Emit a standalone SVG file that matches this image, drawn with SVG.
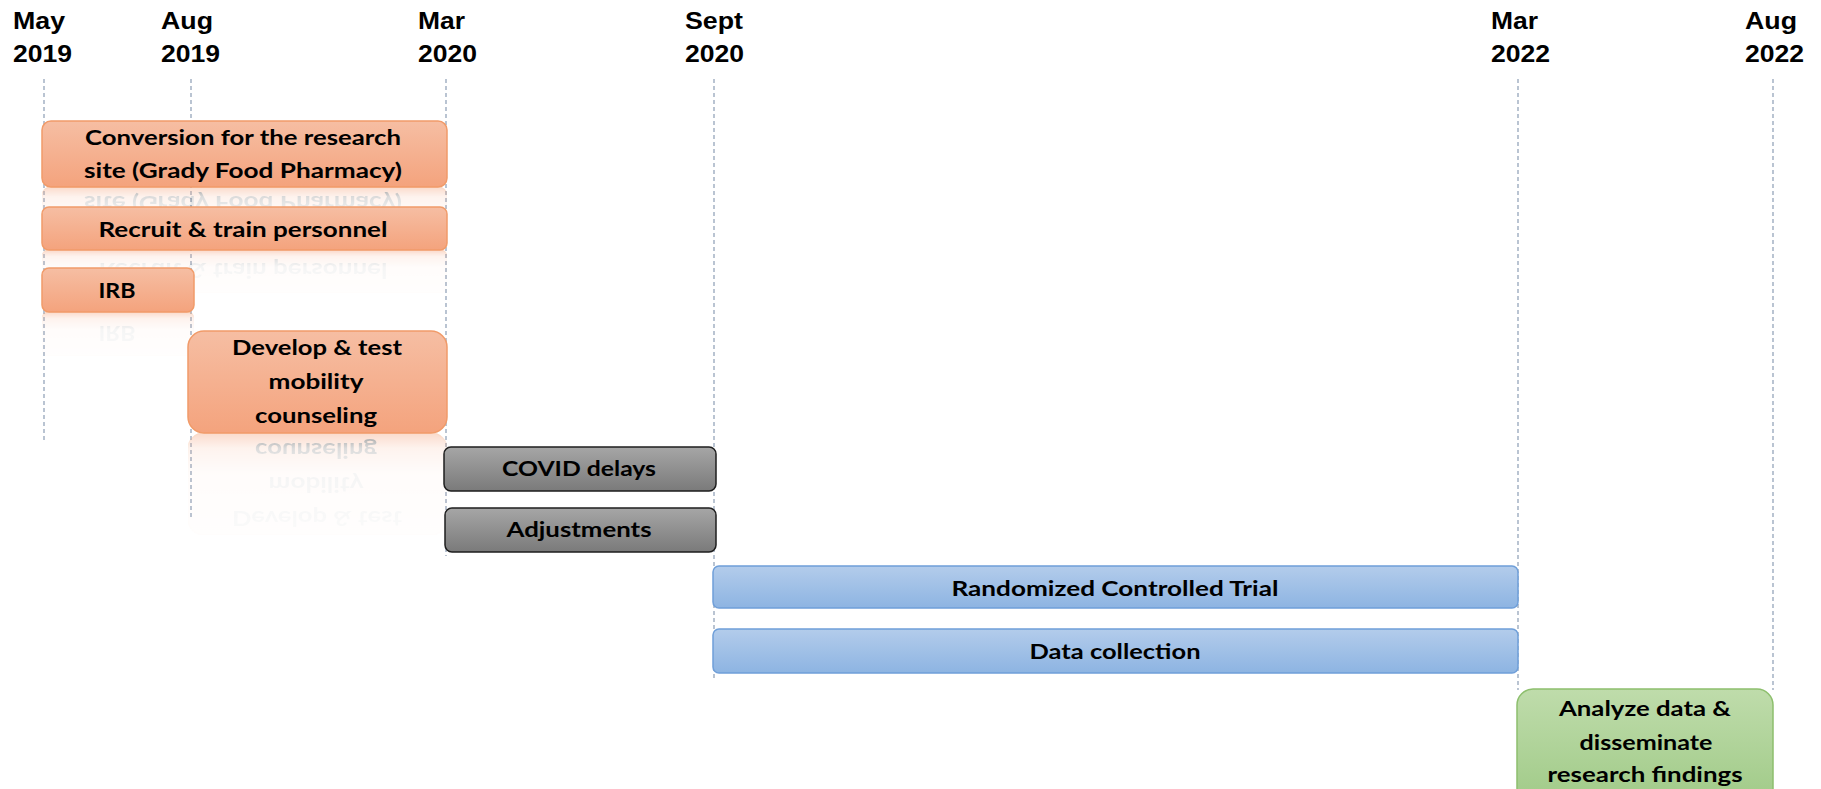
<svg xmlns="http://www.w3.org/2000/svg" xmlns:xlink="http://www.w3.org/1999/xlink" width="1821" height="789" viewBox="0 0 1821 789">
  <style>
    .date { font-family: "Liberation Sans", Arial, sans-serif; font-weight: 700; font-size: 24px; fill: #000; }
    .t { font-family: Lato, "Liberation Sans", sans-serif; font-weight: 700; font-size: 21px; fill: #000; text-anchor: middle; }
    .grid { stroke: #8C9DB5; stroke-width: 1.2; stroke-dasharray: 4 3; fill: none; }
    .orange { fill: url(#gOrange); stroke: #F19B69; stroke-width: 1.5; }
    .gray { fill: url(#gGray); stroke: #1E1E1E; stroke-width: 1.5; }
    .blue { fill: url(#gBlue); stroke: #6F9FD9; stroke-width: 1.5; }
    .green { fill: url(#gGreen); stroke: #8DBF6D; stroke-width: 1.5; }
  </style>
  <defs>
    <linearGradient id="gOrange" x1="0" y1="0" x2="0" y2="1">
      <stop offset="0" stop-color="#F6BEA3"/>
      <stop offset="1" stop-color="#F4A37D"/>
    </linearGradient>
    <linearGradient id="gGray" x1="0" y1="0" x2="0" y2="1">
      <stop offset="0" stop-color="#A6A6A6"/>
      <stop offset="1" stop-color="#7A7A7A"/>
    </linearGradient>
    <linearGradient id="gBlue" x1="0" y1="0" x2="0" y2="1">
      <stop offset="0" stop-color="#B3CCEB"/>
      <stop offset="1" stop-color="#8DB4E2"/>
    </linearGradient>
    <linearGradient id="gGreen" x1="0" y1="0" x2="0" y2="1">
      <stop offset="0" stop-color="#BFDCAB"/>
      <stop offset="1" stop-color="#9CC883"/>
    </linearGradient>
    <linearGradient id="gFade" x1="0" y1="0" x2="0" y2="1">
      <stop offset="0" stop-color="#fff" stop-opacity="0.4"/>
      <stop offset="0.15" stop-color="#fff" stop-opacity="0.14"/>
      <stop offset="0.4" stop-color="#fff" stop-opacity="0.04"/>
      <stop offset="1" stop-color="#fff" stop-opacity="0.02"/>
    </linearGradient>
    <mask id="fade" maskContentUnits="objectBoundingBox">
      <rect x="0" y="0" width="1" height="1" fill="url(#gFade)"/>
    </mask>
  </defs>

  <rect width="1821" height="789" fill="#fff"/>

  <g id="date-labels">
    <text class="date" x="13" y="29"><tspan textLength="52" lengthAdjust="spacingAndGlyphs">May</tspan></text>
    <text class="date" x="13" y="62"><tspan textLength="59" lengthAdjust="spacingAndGlyphs">2019</tspan></text>
    <text class="date" x="161" y="29"><tspan textLength="52" lengthAdjust="spacingAndGlyphs">Aug</tspan></text>
    <text class="date" x="161" y="62"><tspan textLength="59" lengthAdjust="spacingAndGlyphs">2019</tspan></text>
    <text class="date" x="418" y="29"><tspan textLength="47" lengthAdjust="spacingAndGlyphs">Mar</tspan></text>
    <text class="date" x="418" y="62"><tspan textLength="59" lengthAdjust="spacingAndGlyphs">2020</tspan></text>
    <text class="date" x="685" y="29"><tspan textLength="58" lengthAdjust="spacingAndGlyphs">Sept</tspan></text>
    <text class="date" x="685" y="62"><tspan textLength="59" lengthAdjust="spacingAndGlyphs">2020</tspan></text>
    <text class="date" x="1491" y="29"><tspan textLength="47" lengthAdjust="spacingAndGlyphs">Mar</tspan></text>
    <text class="date" x="1491" y="62"><tspan textLength="59" lengthAdjust="spacingAndGlyphs">2022</tspan></text>
    <text class="date" x="1745" y="29"><tspan textLength="52" lengthAdjust="spacingAndGlyphs">Aug</tspan></text>
    <text class="date" x="1745" y="62"><tspan textLength="59" lengthAdjust="spacingAndGlyphs">2022</tspan></text>
  </g>

  <g id="connectors">
    <line class="grid" x1="44" y1="79" x2="44" y2="442"/>
    <line class="grid" x1="191" y1="79" x2="191" y2="520"/>
    <line class="grid" x1="446" y1="79" x2="446" y2="556"/>
    <line class="grid" x1="714" y1="79" x2="714" y2="678"/>
    <line class="grid" x1="1518" y1="79" x2="1518" y2="690"/>
    <line class="grid" x1="1773" y1="79" x2="1773" y2="690"/>
  </g>

  <g id="reflections">
    <g mask="url(#fade)"><use xlink:href="#conversion" href="#conversion" transform="translate(0 374) scale(1 -1)"/></g>
    <g mask="url(#fade)"><use xlink:href="#recruit" href="#recruit" transform="translate(0 500) scale(1 -1)"/></g>
    <g mask="url(#fade)"><use xlink:href="#irb" href="#irb" transform="translate(0 624) scale(1 -1)"/></g>
    <g mask="url(#fade)"><use xlink:href="#develop" href="#develop" transform="translate(0 866) scale(1 -1)"/></g>
  </g>

  <g id="conversion">
    <rect class="orange" x="42" y="121" width="405" height="66" rx="9"/>
    <text class="t" x="243" y="145"><tspan textLength="316" lengthAdjust="spacingAndGlyphs">Conversion for the research</tspan></text>
    <text class="t" x="243" y="178"><tspan textLength="318" lengthAdjust="spacingAndGlyphs">site (Grady Food Pharmacy)</tspan></text>
  </g>

  <g id="recruit">
    <rect class="orange" x="42" y="207" width="405" height="43" rx="7"/>
    <text class="t" x="243" y="237"><tspan textLength="289" lengthAdjust="spacingAndGlyphs">Recruit &amp; train personnel</tspan></text>
  </g>

  <g id="irb">
    <rect class="orange" x="42" y="268" width="152" height="44" rx="7"/>
    <text class="t" x="117" y="298"><tspan textLength="37" lengthAdjust="spacingAndGlyphs">IRB</tspan></text>
  </g>

  <g id="develop">
    <rect class="orange" x="188" y="331" width="259" height="102" rx="16"/>
    <text class="t" x="317" y="355"><tspan textLength="170" lengthAdjust="spacingAndGlyphs">Develop &amp; test</tspan></text>
    <text class="t" x="316" y="389"><tspan textLength="95" lengthAdjust="spacingAndGlyphs">mobility</tspan></text>
    <text class="t" x="316" y="423"><tspan textLength="122" lengthAdjust="spacingAndGlyphs">counseling</tspan></text>
  </g>

  <g id="covid">
    <rect class="gray" x="444" y="447" width="272" height="44" rx="7"/>
    <text class="t" x="579" y="476"><tspan textLength="154" lengthAdjust="spacingAndGlyphs">COVID delays</tspan></text>
  </g>

  <g id="adjustments">
    <rect class="gray" x="445" y="508" width="271" height="44" rx="7"/>
    <text class="t" x="579" y="537"><tspan textLength="145" lengthAdjust="spacingAndGlyphs">Adjustments</tspan></text>
  </g>

  <g id="rct">
    <rect class="blue" x="713" y="566" width="805" height="42" rx="6"/>
    <text class="t" x="1115" y="596"><tspan textLength="327" lengthAdjust="spacingAndGlyphs">Randomized Controlled Trial</tspan></text>
  </g>

  <g id="data-collection">
    <rect class="blue" x="713" y="629" width="805" height="44" rx="6"/>
    <text class="t" x="1115" y="659"><tspan textLength="171" lengthAdjust="spacingAndGlyphs">Data collection</tspan></text>
  </g>

  <g id="analyze">
    <rect class="green" x="1517" y="689" width="256" height="130" rx="16"/>
    <text class="t" x="1645" y="716"><tspan textLength="172" lengthAdjust="spacingAndGlyphs">Analyze data &amp;</tspan></text>
    <text class="t" x="1646" y="750"><tspan textLength="133" lengthAdjust="spacingAndGlyphs">disseminate</tspan></text>
    <text class="t" x="1645" y="782"><tspan textLength="195" lengthAdjust="spacingAndGlyphs">research findings</tspan></text>
  </g>
</svg>
